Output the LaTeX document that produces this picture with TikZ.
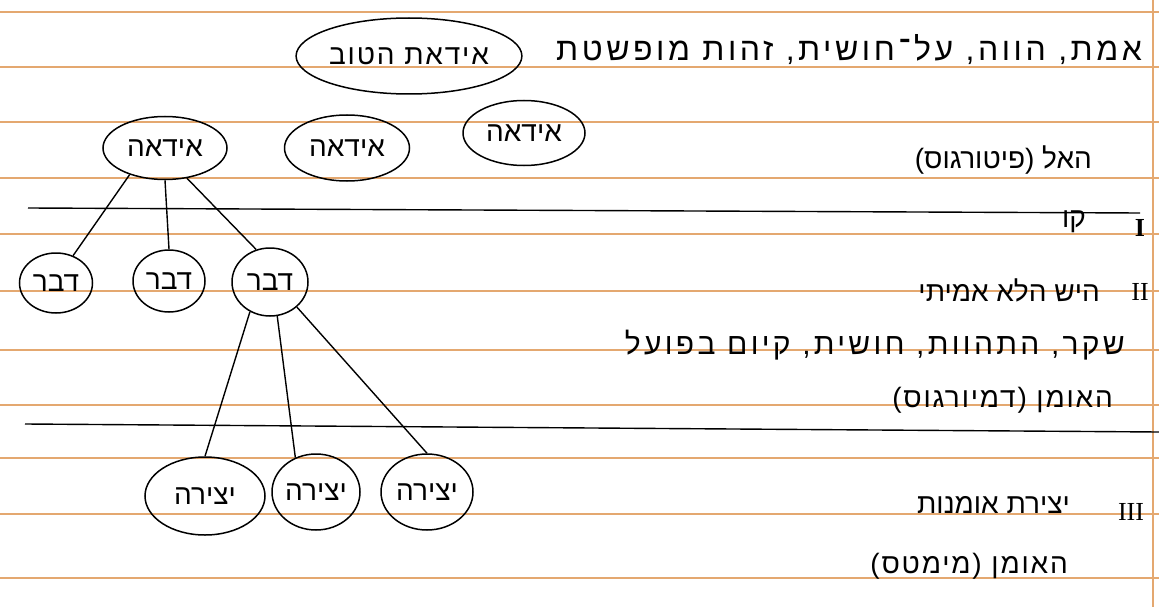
\documentclass[tikz,border=0pt]{standalone}
\usepackage{fontspec}
\usepackage{tikz}
\usetikzlibrary{shapes.geometric}
\TeXXeTstate=1
\newfontfamily\hebfont[Script=Hebrew]{Liberation Sans}
\newfontfamily\hebwide[Script=Hebrew,LetterSpace=6.5]{Liberation Sans}
\newfontfamily\hebspread[Script=Hebrew,LetterSpace=11]{Liberation Sans}
\newfontfamily\numfont{Liberation Serif}
\definecolor{ruling}{RGB}{228,168,112}

\begin{document}
\begin{tikzpicture}[x=1pt,y=-1pt,
  bub/.style={draw, ellipse, line width=1.5pt, inner sep=0pt, font=\hebfont\fontsize{28}{32}\selectfont},
  note/.style={anchor=east, inner sep=0pt, font=\hebfont\fontsize{28}{32}\selectfont},
  widenote/.style={note, font=\hebwide\fontsize{28}{32}\selectfont},
  num/.style={inner sep=0pt, font=\numfont\fontsize{26}{30}\selectfont},
  ruleline/.style={ruling, line width=1.1pt},
  pen/.style={line width=1.4pt}]

\useasboundingbox (0,0) rectangle (1159,607);
\fill[white] (0,0) rectangle (1159,607);

\foreach \y in {12,67,122,178,234,291,350,405,458,514,578}
  \draw[ruleline] (0,\y) -- (1159,\y);
\draw[ruleline] (1153,0) -- (1153,607);

\draw[pen] (28,208) -- (1140,213);
\draw[pen] (25,424) -- (1159,432);

\node[bub, minimum width=208, minimum height=76, font=\hebwide\fontsize{28}{32}\selectfont] (good) at (409,56) {\beginR אידאת הטוב\endR};

\node[bub, minimum width=124, minimum height=63] (ida) at (165,148) {\beginR אידאה\endR};
\node[bub, minimum width=125, minimum height=66] (idb) at (347,148) {\beginR אידאה\endR};
\node[bub, minimum width=122, minimum height=65] (idc) at (524,133) {\beginR אידאה\endR};

\node[bub, minimum width=73, minimum height=60] (tha) at (56,283) {\beginR דבר\endR};
\node[bub, minimum width=72, minimum height=62] (thb) at (169,281) {\beginR דבר\endR};
\node[bub, minimum width=76, minimum height=68] (thc) at (270,282) {\beginR דבר\endR};

\node[bub, minimum width=120, minimum height=78] (wka) at (205,496) {\beginR יצירה\endR};
\node[bub, minimum width=88, minimum height=76] (wkb) at (316,492) {\beginR יצירה\endR};
\node[bub, minimum width=92, minimum height=76] (wkc) at (427,492) {\beginR יצירה\endR};

\draw[pen] (ida.217) -- (tha.58);
\draw[pen] (ida.south) -- (thb.north);
\draw[pen] (ida.306) -- (thc.113);
\draw[pen] (thc.236) -- (wka.north);
\draw[pen] (thc.282) -- (wkb.121);
\draw[pen] (thc.317) -- (wkc.north);

\node[note, font=\hebspread\fontsize{32}{36}\selectfont] (tx1) at (1142,50) {\beginR אמת, הווה, על־חושית, זהות מופשטת\endR};
\node[note] (tx2) at (1092,160) {\beginR האל (פיטורגוס)\endR};
\node[note] (tx3) at (1086,222) {\beginR קו\endR};
\node[note] (tx4) at (1100,290) {\beginR היש הלא אמיתי\endR};
\node[note, font=\hebspread\fontsize{30}{34}\selectfont] (tx5) at (1125,345) {\beginR שקר, התהוות, חושית, קיום בפועל\endR};
\node[widenote] (tx6) at (1113,400) {\beginR האומן (דמיורגוס)\endR};
\node[note] (tx7) at (1070,505) {\beginR יצירת אומנות\endR};
\node[widenote] (tx8) at (1068,566) {\beginR האומן (מימטס)\endR};

\node[num] (n1) at (1140,228) {\textbf{I}};
\node[num] (n2) at (1140,292) {II};
\node[num] (n3) at (1131,512) {III};

\end{tikzpicture}
\end{document}
